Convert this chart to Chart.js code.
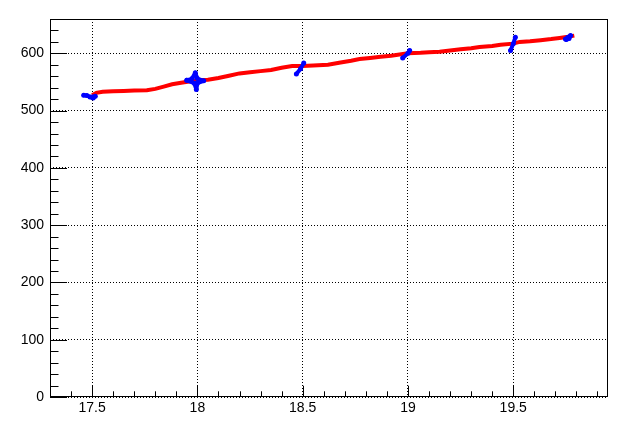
<!DOCTYPE html>
<html>
<head>
<meta charset="utf-8">
<script src="https://cdn.jsdelivr.net/npm/chart.js@4"></script>
<style>
  html, body { margin: 0; padding: 0; background: #fff; }
  #wrap { width: 633px; height: 428px; position: relative; }
</style>
</head>
<body>
<div id="wrap"><canvas id="c"></canvas></div>
<script>
// red curve
const redX = [17.50, 17.52, 17.55, 17.60, 17.65, 17.70, 17.76, 17.80, 17.84, 17.88, 17.93, 18.00,
  18.05, 18.10, 18.15, 18.20, 18.25, 18.30, 18.35, 18.40, 18.45, 18.50, 18.55, 18.62,
  18.68, 18.73, 18.77, 18.82, 18.87, 18.92, 18.96, 19.00, 19.06, 19.10, 19.15, 19.20,
  19.25, 19.30, 19.34, 19.40, 19.44, 19.50, 19.53, 19.58, 19.63, 19.68, 19.72, 19.76, 19.79];
const redY = [527, 531, 533, 534, 534.5, 535, 535.5, 538, 542, 546, 549, 553,
  554, 557, 561, 565, 567, 569, 571, 575, 578, 578, 579, 580,
  584, 587, 590, 592, 594, 596, 598, 600, 601, 602, 603, 605,
  607, 609, 611, 613, 615, 617, 620, 621, 623, 625, 627, 629, 631];

// blue point clusters (null = break)
const blueX = [17.46, 17.475, 17.49, 17.505, 17.515, 17.5, null,
  17.95, 17.975, 17.99, 18.0, 18.03, 18.0, 17.995, 17.985, 17.95, null,
  18.47, 18.49, 18.505, null,
  18.975, 19.0, 19.008, null,
  19.487, 19.5, 19.51, null,
  19.748, 19.76, 19.772, 19.765, 19.752];
const blueY = [527, 526.5, 524, 522, 525, 524, null,
  553, 556, 566, 556, 552, 548, 537, 548, 553, null,
  564, 573, 583, null,
  592, 600, 605, null,
  605, 617, 628, null,
  625, 628, 631, 626, 624];

const xTicks = [17.5, 18, 18.5, 19, 19.5];
const xTickLabels = ['17.5', '18', '18.5', '19', '19.5'];
const yTicks = [0, 100, 200, 300, 400, 500, 600];
const yTickLabels = ['0', '100', '200', '300', '400', '500', '600'];

const xMin = 17.3, xMax = 19.95, yMin = 0, yMax = 660;

const toPoints = (xs, ys) => xs.map((x, i) => (x === null ? { x: NaN, y: null } : { x: x, y: ys[i] }));

// frame + inner ticks, ROOT style
const frameTicks = {
  id: 'frameTicks',
  afterDraw(chart) {
    const { ctx, chartArea: a, scales } = chart;
    const xs = scales.x, ys = scales.y;
    ctx.save();
    ctx.strokeStyle = '#000';
    ctx.lineWidth = 1;
    ctx.setLineDash([]);
    ctx.strokeRect(Math.round(a.left) + 0.5, Math.round(a.top) + 0.5,
      Math.round(a.right - a.left) - 1, Math.round(a.bottom - a.top) - 1);
    ctx.beginPath();
    for (let i = 0; i * 20 <= yMax; i++) {
      const v = i * 20;
      const py = Math.round(ys.getPixelForValue(v)) + 0.5;
      const len = (v % 100 === 0) ? 17 : 8.5;
      ctx.moveTo(a.left, py);
      ctx.lineTo(a.left + len, py);
    }
    for (let i = 0; ; i++) {
      const v = 17.3 + i * 0.1;
      if (v > xMax) break;
      const px = Math.round(xs.getPixelForValue(v)) + 0.5;
      const major = Math.abs(v * 2 - Math.round(v * 2)) < 1e-6;
      const len = major ? 11.3 : 5.7;
      ctx.moveTo(px, a.bottom);
      ctx.lineTo(px, a.bottom - len);
    }
    ctx.stroke();
    ctx.restore();
  }
};

new Chart(document.getElementById('c'), {
  type: 'scatter',
  data: {
    datasets: [
      {
        label: 'points',
        data: toPoints(blueX, blueY),
        showLine: true,
        spanGaps: false,
        borderColor: '#0000ff',
        backgroundColor: '#0000ff',
        borderWidth: 4,
        borderJoinStyle: 'round',
        borderCapStyle: 'round',
        pointRadius: 2.5,
        pointBorderWidth: 0,
        order: 0
      },
      {
        label: 'curve',
        data: toPoints(redX, redY),
        showLine: true,
        borderColor: '#ff0000',
        borderWidth: 4,
        pointRadius: 0,
        order: 1
      }
    ]
  },
  options: {
    responsive: true,
    maintainAspectRatio: false,
    animation: false,
    layout: { padding: { left: 0, top: 19, right: 25, bottom: 0 } },
    plugins: { legend: { display: false }, tooltip: { enabled: false } },
    scales: {
      x: {
        type: 'linear',
        min: xMin,
        max: xMax,
        afterBuildTicks: s => { s.ticks = xTicks.map(v => ({ value: v })); },
        afterFit: s => { s.height = 31; },
        ticks: {
          padding: 3,
          color: '#000',
          font: { family: 'Liberation Sans, Arial, sans-serif', size: 14 },
          callback: v => xTickLabels[xTicks.indexOf(v)] ?? ''
        },
        grid: { color: '#000', lineWidth: 1, drawTicks: false },
        border: { display: false, dash: [1, 2] }
      },
      y: {
        type: 'linear',
        min: yMin,
        max: yMax,
        afterBuildTicks: s => { s.ticks = yTicks.map(v => ({ value: v })); },
        afterFit: s => { s.width = 50; },
        ticks: {
          padding: 6,
          color: '#000',
          font: { family: 'Liberation Sans, Arial, sans-serif', size: 14 },
          callback: v => yTickLabels[yTicks.indexOf(v)] ?? ''
        },
        grid: { color: '#000', lineWidth: 1, drawTicks: false },
        border: { display: false, dash: [1, 2] }
      }
    }
  },
  plugins: [frameTicks]
});
</script>
</body>
</html>
